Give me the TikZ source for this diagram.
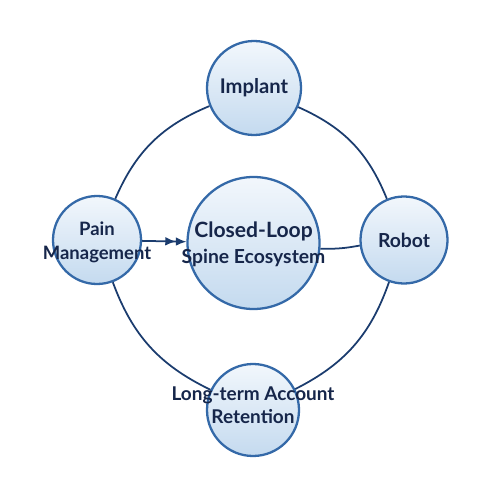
\documentclass[tikz,border=0pt]{standalone}
\usepackage{fontspec}
\setmainfont{Lato}
\usetikzlibrary{arrows.meta}
\definecolor{ringline}{HTML}{1B3C6E}
\definecolor{circedge}{HTML}{3469A8}
\definecolor{circtop}{HTML}{F2F7FC}
\definecolor{circbot}{HTML}{C4DAEF}
\definecolor{textnavy}{HTML}{16264A}

\begin{document}
\begin{tikzpicture}[every node/.style={font=\bfseries\fontsize{10.8}{13}\selectfont, text=textnavy},
  hub/.style={circle, draw=circedge, line width=1.3pt, top color=circtop, bottom color=circbot, inner sep=0pt},
  caption/.style={align=center, inner sep=0pt},
  link/.style={draw=ringline, line width=1pt}]
\useasboundingbox (0,0) rectangle (10,-10);
\node[hub, minimum size=2.64cm] (core) at (5.07,-4.86) {};
\node[hub, minimum size=1.88cm] (implant) at (5.08,-1.76) {};
\node[hub, minimum size=1.76cm] (pain) at (1.94,-4.8) {};
\node[hub, minimum size=1.74cm] (robot) at (8.08,-4.8) {};
\node[hub, minimum size=1.84cm] (retain) at (5.06,-8.2) {};

\node[caption, font=\bfseries\fontsize{11}{14}\selectfont] (coretext) at (5.07,-4.88) {{\fontsize{12}{14}\selectfont Closed-Loop}\\[1pt]Spine Ecosystem};
\node[caption, font=\bfseries\fontsize{11.5}{13}\selectfont] (implanttext) at (implant) {Implant};
\node[caption, font=\bfseries\fontsize{10.5}{13.5}\selectfont] (paintext) at (1.94,-4.84) {Pain\\Management};
\node[caption, font=\bfseries\fontsize{11}{13}\selectfont] (robottext) at (robot) {Robot};
\node[caption] (retaintext) at (5.06,-8.1) {Long-term Account\\Retention};

\draw[link] (pain) to[bend left=22] (implant);
\draw[link] (implant) to[bend left=22] (robot);
\draw[link] (robot) to[bend left=22] (retain);
\draw[link] (retain) to[bend left=22] (pain);
\draw[link, -{Latex[length=6pt,width=5pt] Latex[length=6pt,width=5pt]}] (pain) -- (core);
\draw[link] (core) to[bend right=6] (robot);
\end{tikzpicture}
\end{document}
